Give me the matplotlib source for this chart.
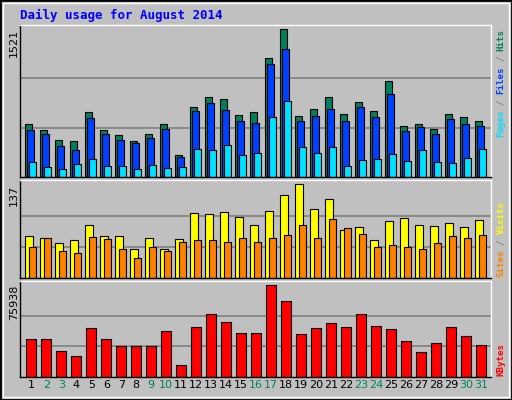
import matplotlib
matplotlib.use("Agg")
import matplotlib.pyplot as plt
import numpy as np
from matplotlib.patches import Rectangle

days = list(range(1, 32))
weekend = [2, 3, 9, 10, 16, 17, 23, 24, 30, 31]
hits = [540, 478, 385, 365, 664, 478, 427, 375, 447, 540, 231, 716, 819, 798, 633, 664,
        1222, 1521, 623, 695, 819, 643, 767, 674, 984, 520, 540, 489, 643, 613, 571]
files = [478, 447, 323, 282, 602, 437, 385, 354, 396, 489, 210, 674, 757, 685, 571, 551,
         1160, 1314, 571, 623, 695, 571, 716, 613, 850, 468, 509, 447, 592, 540, 520]
pages = [158, 107, 86, 138, 189, 117, 117, 86, 127, 96, 107, 292, 282, 334, 231, 251,
         613, 778, 313, 251, 313, 117, 179, 189, 241, 169, 282, 158, 148, 200, 292]
visits = [61, 58, 51, 55, 77, 61, 62, 42, 58, 42, 57, 95, 94, 97, 89, 77,
          98, 121, 137, 101, 116, 70, 74, 55, 83, 88, 77, 76, 80, 74, 85]
sites = [46, 58, 39, 37, 60, 57, 43, 30, 46, 40, 52, 55, 55, 52, 58, 52,
         58, 63, 77, 58, 86, 73, 64, 46, 48, 46, 43, 51, 61, 58, 63]
kbytes = [31870, 31870, 21890, 17730, 41010, 31870, 26050, 26050, 26050, 38520, 10250,
          41840, 51820, 45170, 36850, 36850, 75938, 62620, 36020, 41010, 44340, 41840,
          51820, 42670, 40180, 30200, 21060, 28540, 41840, 34360, 26880]

W, H = 512, 400
fig = plt.figure(figsize=(W/100, H/100), dpi=100, facecolor="#C0C0C0")
fig.patches.append(Rectangle((0, 0), 1, 1, transform=fig.transFigure, fill=False,
                             edgecolor="black", lw=2))
fig.patches.append(Rectangle((3/W, 3/H), 1-6/W, 1-6/H, transform=fig.transFigure, fill=False,
                             edgecolor="white", lw=1))

def mkax(y0, y1):
    ax = fig.add_axes([20/W, 1-y1/H, 471/W, (y1-y0)/H], facecolor="#C0C0C0")
    ax.set_xlim(0, 471/15)
    ax.set_xticks([]); ax.set_yticks([])
    for s in ax.spines.values():
        s.set_color("black"); s.set_linewidth(1)
    ax.spines["right"].set_color("white"); ax.spines["top"].set_color("white")
    return ax

x = np.array(days) - 1
mono = "DejaVu Sans Mono"
lw = 0.8

ax1 = mkax(25, 177)
m = 1521
ax1.set_ylim(0, m*152/148)
for g in (m/3, 2*m/3):
    ax1.axhline(g, color="#808080", lw=1.2, zorder=0)
ax1.bar(x+0.35, hits, width=0.46, align="edge", color="#00805C", edgecolor="black", lw=lw)
ax1.bar(x+0.46, files, width=0.48, align="edge", color="#0040FF", edgecolor="black", lw=lw)
ax1.bar(x+0.6, pages, width=0.48, align="edge", color="#00E0FF", edgecolor="black", lw=lw)

ax2 = mkax(180, 278)
m2 = 137
ax2.set_ylim(0, m2*289/276)
for g in (m2/3, 2*m2/3):
    ax2.axhline(g, color="#808080", lw=1.2, zorder=0)
ax2.bar(x+0.35, visits, width=0.53, align="edge", color="#FFFF00", edgecolor="black", lw=lw)
ax2.bar(x+0.58, sites, width=0.5, align="edge", color="#FF8000", edgecolor="black", lw=lw)

ax3 = mkax(281, 377)
m3 = 75938
ax3.set_ylim(0, m3*287/274)
for g in (m3/3, 2*m3/3):
    ax3.axhline(g, color="#808080", lw=1.2, zorder=0)
ax3.bar(x+0.42, kbytes, width=0.66, align="edge", color="#FF0000", edgecolor="black", lw=lw)

for d in days:
    ax3.text(d-1+0.75, -0.03, str(d), transform=ax3.get_xaxis_transform(), ha="center",
             va="top", fontsize=8, color="#00805C" if d in weekend else "black")

def ft(px, py, s, **kw):
    fig.text(px/W, 1-py/H, s, **kw)

ft(20, 15, "Daily usage for August 2014", color="#0000FF", family=mono,
   weight="bold", fontsize=9, va="center")
ft(14, 29, "1521", rotation=90, ha="center", va="top", fontsize=8)
ft(14, 185, "137", rotation=90, ha="center", va="top", fontsize=8)
ft(14, 285, "75938", rotation=90, ha="center", va="top", fontsize=8)

CW = 5.4
def vlabel(ybottom, parts):
    y = ybottom
    for i, (s, c) in enumerate(parts):
        ft(501, y, s, rotation=90, ha="center", va="bottom", color=c, family=mono,
           weight="bold", fontsize=6.6)
        y -= (len(s) + 1) * CW
vlabel(137, [("Pages", "#00E0FF"), ("/", "#808080"), ("Files", "#0040FF"),
             ("/", "#808080"), ("Hits", "#00805C")])
vlabel(277, [("Sites", "#FF8000"), ("/", "#808080"), ("Visits", "#FFFF00")])
vlabel(376, [("KBytes", "#FF0000")])

fig.savefig("out.png", dpi=100, facecolor=fig.get_facecolor())
